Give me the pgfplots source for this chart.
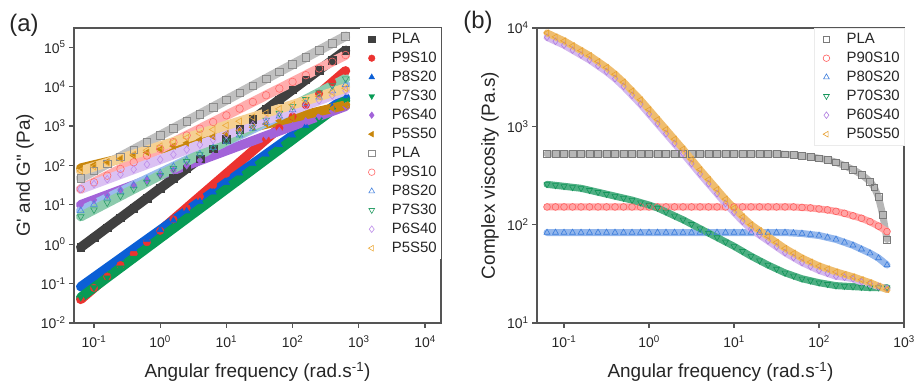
\documentclass[border=0pt]{standalone}
\usepackage{fontspec}
\setmainfont{Liberation Sans}
\usepackage{pgfplots}
\usepackage{pgfplotstable}
\pgfplotsset{compat=1.18}

\definecolor{axgray}{HTML}{555555}
% panel a, filled (G')
\definecolor{aK}{HTML}{404040}
\definecolor{aR}{HTML}{EC3330}
\definecolor{aB}{HTML}{0B5FD6}
\definecolor{aG}{HTML}{079B55}
\definecolor{aP}{HTML}{A263D9}
\definecolor{aO}{HTML}{C8860A}
% panel a, open (G'')
\definecolor{oK}{HTML}{8C8C8C}
\definecolor{oR}{HTML}{FF6A6A}
\definecolor{oB}{HTML}{4A86E0}
\definecolor{oG}{HTML}{2EA06A}
\definecolor{oP}{HTML}{BE8EEA}
\definecolor{oO}{HTML}{EDAA3A}
% panel b
\definecolor{bK}{HTML}{7A7A7A}
\definecolor{bR}{HTML}{FF5C5C}
\definecolor{bB}{HTML}{3C7DDC}
\definecolor{bG}{HTML}{13955A}
\definecolor{bP}{HTML}{B07EE0}
\definecolor{bO}{HTML}{E8A030}

\pgfplotstableread{
w      f1     f2     f3     f4     f5    f6    o1     o2    o3    o4    o5    o6
0.0631 0.832  0.0398 0.0832 0.0447 10    85.11 47.86  25.12 7.079 5.012 25.12 72.44
0.1    1.479  0.0776 0.1445 0.0794 13.34 102.3 72.44  37.15 10.23 7.499 33.50 92.26
0.1585 2.63   0.151  0.2512 0.1413 17.78 123.0 109.6  54.95 14.79 11.22 44.67 117.5
0.2512 4.677  0.295  0.4365 0.2512 23.71 147.9 166.0  81.28 21.38 16.79 59.57 149.6
0.3981 8.318  0.575  0.7586 0.4467 31.62 177.8 251.2  120.2 30.90 25.12 79.43 190.5
0.631  14.79  1.122  1.318  0.7943 42.17 213.8 380.2  177.8 44.67 37.58 105.9 242.7
1      26.3   2.188  2.291  1.413  56.23 257.0 575.4  263.0 64.57 56.23 141.3 309.0
1.585  46.77  4.266  3.981  2.512  74.99 309.0 871.0  389.0 93.33 84.14 188.4 393.6
2.512  83.18  8.318  6.918  4.467  100   371.5 1318   575.4 134.9 125.9 251.2 501.2
3.981  147.9  16.22  12.02  7.943  133.4 446.7 1995   851.1 195.0 188.4 335.0 638.3
6.31   263    31.62  20.89  14.13  177.8 537.0 3020   1259  281.8 281.8 446.7 812.8
10     467.7  61.66  36.31  25.12  237.1 645.7 4571   1862  407.4 421.7 595.7 1035
15.85  831.8  120.2  63.10  44.67  316.2 776.2 6918   2754  588.8 631.0 794.3 1318
25.12  1479   234.4  109.6  79.43  421.7 933.3 10470  4074  851.1 944.1 1059  1679
39.81  2630   457.1  190.5  141.3  562.3 1122  15850  6026  1230  1413  1413  2138
63.1   4677   891.3  331.1  251.2  749.9 1349  23990  8913  1778  2113  1884  2723
100    8318   1738   575.4  446.7  1000  1622  36310  13180 2570  3162  2512  3467
158.5  14790  3388   1000   794.3  1334  1950  54950  19500 3715  4732  3350  4416
251.2  26300  6607   1738   1413   1778  2344  83180  28840 5370  7079  4467  5623
398.1  46770  12880  3020   2512   2371  2818  125900 42660 7762  10590 5957  7161
631    83180  25120  5248   4467   3162  3388  190500 63100 11220 15850 7943  9120
}\dataA

\pgfplotstableread{
w      p90   p80   p70   p60  p50
0.0631 151.4 83.18 257.0 8040 8913
0.0794 151.4 83.18 251.2 7331 8128
0.1    151.4 83.18 245.5 6686 7413
0.1259 151.4 83.18 239.9 5960 6607
0.1585 151.4 83.18 234.4 5311 5888
0.1995 151.4 83.18 223.9 4734 5248
0.2512 151.4 83.18 213.8 4123 4571
0.3162 151.4 83.18 204.2 3591 3981
0.3981 151.4 83.18 195.0 3056 3388
0.5012 151.4 83.18 186.2 2542 2818
0.6310 151.4 83.18 177.8 2066 2291
0.7943 151.4 83.18 167.9 1680 1862
1      151.4 83.18 158.5 1334 1479
1.259  151.4 83.18 147.9 1060 1175
1.585  151.4 83.18 134.9 841.8 933.3
1.995  151.4 83.18 123.0 668.7 741.3
2.512  151.4 83.18 112.2 531.1 588.8
3.162  151.4 83.18 101.2 417.1 462.4
3.981  151.4 83.18 91.20 327.5 363.1
5.012  151.4 83.18 82.22 260.1 288.4
6.310  151.4 83.18 74.13 206.7 229.1
7.943  151.4 83.18 66.83 164.2 182.0
10     151.4 83.18 60.26 133.4 147.9
12.59  151.4 83.18 53.70 108.4 120.2
15.85  151.4 83.18 47.86 90.2  100
19.95  151.4 83.18 43.15 78.56 87.10
25.12  151.4 83.18 38.90 68.43 75.86
31.62  151.4 83.18 35.48 59.60 66.07
39.81  151.4 83.18 32.36 51.90 57.54
50.12  151.4 82.22 30.20 46.26 51.29
63.10  149.6 81.28 28.18 41.23 45.71
79.43  147.9 79.43 26.92 37.60 41.69
100    144.5 77.62 25.70 34.29 38.02
125.9  141.3 74.13 24.83 32.00 35.48
158.5  136.5 70.79 23.99 29.87 33.11
199.5  130.3 66.07 23.71 29.17 31.26
251.2  123.0 61.66 23.44 28.18 29.51
316.2  116.1 56.23 23.17 26.30 27.54
398.1  107.2 51.29 22.91 25.11 25.70
501.2  96.6  45.71 22.91 23.47 23.71
631.0  85.11 38.90 22.91 22.39 21.88
}\dataB

\pgfplotstableread{
w      pla
0.0631 524.8
0.0794 524.8
0.1    524.8
0.1259 524.8
0.1585 524.8
0.1995 524.8
0.2512 524.8
0.3162 524.8
0.3981 524.8
0.5012 524.8
0.6310 524.8
0.7943 524.8
1      524.8
1.259  524.8
1.585  524.8
1.995  524.8
2.512  524.8
3.162  524.8
3.981  524.8
5.012  524.8
6.310  524.8
7.943  524.8
10     524.8
12.59  524.8
15.85  524.8
19.95  524.8
25.12  524.8
31.62  524.8
39.81  518.8
50.12  512.9
63.10  501.2
79.43  489.8
100    473.2
125.9  457.1
158.5  431.5
199.5  398.1
251.2  363.1
316.2  323.6
398.1  275.4
446.7  239.9
501.2  190.5
562.3  125.9
631.0  70.79
}\dataBg

\pgfplotsset{
  fb/.style={forget plot, draw=#1, line width=9.5bp, line cap=round, line join=round},
  ob/.style={forget plot, draw=#1!55, line width=9.5bp, line cap=round, line join=round},
  om/.style={only marks, color=#1, mark size=3.8bp, mark options={line width=0.6bp, fill=none}},
  fm/.style={only marks, color=#1, mark size=3.8bp},
  bb/.style={forget plot, draw=#1!55, line width=7bp, line cap=round, line join=round},
  bm/.style={only marks, color=#1, mark size=3.4bp, mark options={line width=0.6bp, fill=none}},
}

\begin{document}
\begin{tikzpicture}[x=1bp,y=1bp]
% ---------- panel (a) ----------
\begin{axis}[xmode=log, ymode=log, log basis x=10, log basis y=10,
  scale only axis, width=367bp, height=295bp,
  at={(74bp,61bp)}, anchor=south west,
  axis line style={draw=axgray, line width=1.3bp},
  tick style={draw=axgray, line width=1.1bp},
  major tick length=5bp, tick align=outside,
  xtick pos=bottom, ytick pos=left,
  minor tick length=0pt, minor tick style={draw=none},
  tick label style={font=\fontsize{14}{14}\selectfont, text=black!85},
  xticklabel style={yshift=-4bp},
  xticklabel={10\textsuperscript{\pgfmathparse{int(round(\tick))}\pgfmathresult}},
  yticklabel={10\textsuperscript{\pgfmathparse{int(round(\tick))}\pgfmathresult}},
  label style={font=\fontsize{19}{19}\selectfont, text=black!85},
  xlabel style={at={(axis description cs:0.5,-0.1864)}, anchor=base},
  legend cell align=left,
  legend image code/.code={\path (0bp,-6bp) (28bp,6bp); \draw[#1, mark size=3.3bp] plot coordinates {(8bp,0bp)};},
  legend style={at={(1,1)}, anchor=north east, draw=none, fill=white,
    font=\fontsize{15}{15}\selectfont, text=black!85, inner sep=4bp,
    row sep=5bp, nodes={inner sep=0bp, text height=11bp, text depth=3bp}},
  xmin=0.0499, xmax=17460, ymin=0.01, ymax=3.07e5,
  xtick={0.1,1,10,100,1000,10000},
  ytick={0.01,0.1,1,10,100,1000,10000,100000},
  xlabel={Angular frequency (rad.s\textsuperscript{-1})},
  ylabel={G\textquotesingle{} and G\textquotedbl{} (Pa)},
  ylabel style={at={(axis description cs:-0.1335,0.5)}, anchor=center},
]
\addplot[fb=aK] table[x=w,y=f1]{\dataA};
\addplot[fm=aK, mark=square*] table[x=w,y=f1]{\dataA};
\addlegendentry{PLA}
\addplot[fb=aR] table[x=w,y=f2]{\dataA};
\addplot[fm=aR, mark=*] table[x=w,y=f2]{\dataA};
\addlegendentry{P9S10}
\addplot[fb=aB] table[x=w,y=f3]{\dataA};
\addplot[fm=aB, mark=triangle*] table[x=w,y=f3]{\dataA};
\addlegendentry{P8S20}
\addplot[fb=aG] table[x=w,y=f4]{\dataA};
\addplot[fm=aG, mark=triangle*, mark options={rotate=180}] table[x=w,y=f4]{\dataA};
\addlegendentry{P7S30}
\addplot[fb=aP] table[x=w,y=f5]{\dataA};
\addplot[fm=aP, mark=diamond*] table[x=w,y=f5]{\dataA};
\addlegendentry{P6S40}
\addplot[fb=aO] table[x=w,y=f6]{\dataA};
\addplot[fm=aO, mark=triangle*, mark options={rotate=90}] table[x=w,y=f6]{\dataA};
\addlegendentry{P5S50}
\addplot[ob=oK] table[x=w,y=o1]{\dataA};
\addplot[om=oK, mark=square] table[x=w,y=o1]{\dataA};
\addlegendentry{PLA}
\addplot[ob=oR] table[x=w,y=o2]{\dataA};
\addplot[om=oR, mark=o] table[x=w,y=o2]{\dataA};
\addlegendentry{P9S10}
\addplot[ob=oB] table[x=w,y=o3]{\dataA};
\addplot[om=oB, mark=triangle] table[x=w,y=o3]{\dataA};
\addlegendentry{P8S20}
\addplot[ob=oG] table[x=w,y=o4]{\dataA};
\addplot[om=oG, mark=triangle, mark options={rotate=180, line width=0.6bp, fill=none}] table[x=w,y=o4]{\dataA};
\addlegendentry{P7S30}
\addplot[ob=oP] table[x=w,y=o5]{\dataA};
\addplot[om=oP, mark=diamond] table[x=w,y=o5]{\dataA};
\addlegendentry{P6S40}
\addplot[ob=oO] table[x=w,y=o6]{\dataA};
\addplot[om=oO, mark=triangle, mark options={rotate=90, line width=0.6bp, fill=none}] table[x=w,y=o6]{\dataA};
\addlegendentry{P5S50}
\end{axis}

% ---------- panel (b) ----------
\begin{axis}[xmode=log, ymode=log, log basis x=10, log basis y=10,
  scale only axis, width=367bp, height=295bp,
  at={(537bp,61bp)}, anchor=south west,
  axis line style={draw=axgray, line width=1.3bp},
  tick style={draw=axgray, line width=1.1bp},
  major tick length=5bp, tick align=outside,
  xtick pos=bottom, ytick pos=left,
  minor tick length=0pt, minor tick style={draw=none},
  tick label style={font=\fontsize{14}{14}\selectfont, text=black!85},
  xticklabel style={yshift=-4bp},
  xticklabel={10\textsuperscript{\pgfmathparse{int(round(\tick))}\pgfmathresult}},
  yticklabel={10\textsuperscript{\pgfmathparse{int(round(\tick))}\pgfmathresult}},
  label style={font=\fontsize{19}{19}\selectfont, text=black!85},
  xlabel style={at={(axis description cs:0.5,-0.1864)}, anchor=base},
  legend cell align=left,
  legend image code/.code={\path (0bp,-6bp) (28bp,6bp); \draw[#1, mark size=3.3bp] plot coordinates {(8bp,0bp)};},
  legend style={at={(1,1)}, anchor=north east, draw=black!8, fill=white,
    font=\fontsize{15}{15}\selectfont, text=black!85, inner sep=4bp,
    row sep=5bp, nodes={inner sep=0bp, text height=11bp, text depth=3bp}},
  xmin=0.0481, xmax=1000, ymin=10, ymax=10000,
  xtick={0.1,1,10,100,1000},
  ytick={10,100,1000,10000},
  xlabel={Angular frequency (rad.s\textsuperscript{-1})},
  ylabel={Complex viscosity (Pa.s)},
  ylabel style={at={(axis description cs:-0.128,0.5)}, anchor=center},
]
\addplot[bb=bK] table[x=w,y=pla]{\dataBg};
\addplot[bm=bK, mark=square] table[x=w,y=pla]{\dataBg};
\addlegendentry{PLA}
\addplot[bb=bR] table[x=w,y=p90]{\dataB};
\addplot[bm=bR, mark=o] table[x=w,y=p90]{\dataB};
\addlegendentry{P90S10}
\addplot[bb=bB] table[x=w,y=p80]{\dataB};
\addplot[bm=bB, mark=triangle] table[x=w,y=p80]{\dataB};
\addlegendentry{P80S20}
\addplot[bb=bG, draw=bG!75] table[x=w,y=p70]{\dataB};
\addplot[bm=bG, mark=triangle, mark options={rotate=180, line width=0.6bp, fill=none}] table[x=w,y=p70]{\dataB};
\addlegendentry{P70S30}
\addplot[bb=bP] table[x=w,y=p60]{\dataB};
\addplot[bm=bP, mark=diamond] table[x=w,y=p60]{\dataB};
\addlegendentry{P60S40}
\addplot[bb=bO, draw=bO!70] table[x=w,y=p50]{\dataB};
\addplot[bm=bO, mark=triangle, mark options={rotate=90, line width=0.6bp, fill=none}] table[x=w,y=p50]{\dataB};
\addlegendentry{P50S50}
\end{axis}

\node[font=\fontsize{24}{24}\selectfont, text=black!85] at (24bp,359bp) {(a)};
\node[font=\fontsize{24}{24}\selectfont, text=black!85] at (478bp,362bp) {(b)};
\pgfresetboundingbox
\path[use as bounding box] (0,0) rectangle (917bp,384bp);
\end{tikzpicture}
\end{document}
